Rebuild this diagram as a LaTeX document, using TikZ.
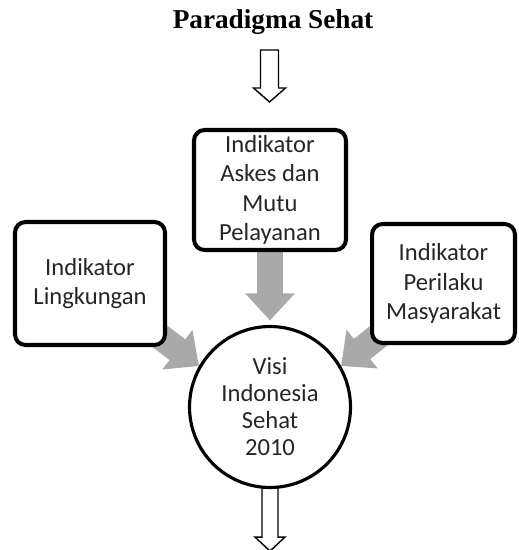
\documentclass[tikz,border=0pt]{standalone}
\usepackage{fontspec}
\setmainfont{Liberation Serif}
\newfontfamily\boxfont{Carlito}
\usepackage{tikz}
\usetikzlibrary{arrows.meta,calc,backgrounds}
\definecolor{shadegray}{HTML}{A9A9A9}

\begin{document}
\begin{tikzpicture}[
  x=0.02cm, y=-0.02cm,
  title/.style={font=\fontsize{15.5}{18}\selectfont\bfseries, inner sep=0pt},
  indbox/.style={draw=black, line width=2.3pt, fill=white, rounded corners=6pt, align=center,
    font=\boxfont\fontsize{14}{16.8}\selectfont, text=black!85, inner sep=2pt},
  visioncircle/.style={draw=black, line width=1.8pt, fill=white, circle, align=center,
    minimum size=3.22cm, inner sep=0pt, font=\boxfont\fontsize{14}{15.4}\selectfont, text=black!85},
  hollowarrow/.style={draw=black, line width=0.8pt, fill=white, line join=miter},
  grayarrow/.style={draw=shadegray, line width=0.52cm, -{Triangle[width=0.96cm, length=0.54cm]}}
]
\useasboundingbox (0,0) rectangle (518,550);

\node[title] (paradigm) at (273,22) {Paradigma Sehat};

\node[indbox, minimum width=3.04cm, minimum height=2.40cm] (access) at (270,190)
  {Indikator\\Askes dan\\Mutu\\Pelayanan};
\node[indbox, minimum width=3.00cm, minimum height=2.46cm] (environment) at (90,283.5)
  {Indikator\\Lingkungan};
\node[indbox, minimum width=2.86cm, minimum height=2.38cm] (behaviour) at (443.5,283.5)
  {Indikator\\Perilaku\\Masyarakat};
\node[visioncircle] (vision) at (270,407) {Visi\\Indonesia\\Sehat\\2010};

\coordinate (topstem) at (260.5,50);
\draw[hollowarrow] (topstem) -- ++(18,0) -- ++(0,38) -- ++(7,0) -- ++(-16,14)
  -- ++(-16,-14) -- ++(7,0) -- cycle;

\begin{pgfonlayer}{background}
\draw[grayarrow, shorten >=0.09cm] (access.south) -- (vision.north);
\draw[grayarrow] (environment.center) -- (vision.150);
\draw[grayarrow] (behaviour.center) -- (vision.30);
\coordinate (bottomstem) at ($(vision.south)+(-8,-4)$);
\draw[hollowarrow] (bottomstem) -- ++(16,0) -- ++(0,52) -- ++(7,0) -- ++(-15,14)
  -- ++(-15,-14) -- ++(7,0) -- cycle;
\end{pgfonlayer}
\end{tikzpicture}
\end{document}
